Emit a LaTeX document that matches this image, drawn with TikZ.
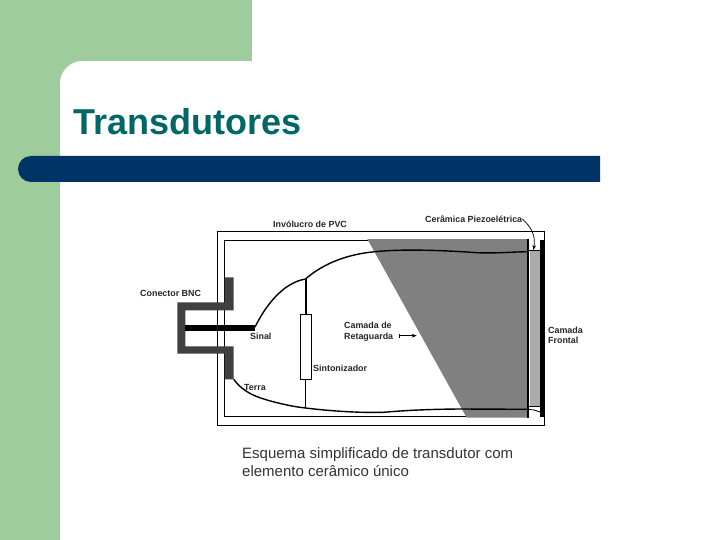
\documentclass[tikz,border=0pt]{standalone}
\usepackage{fontspec}
\setmainfont{Liberation Sans}
\usepackage{xcolor}
\usetikzlibrary{arrows.meta, positioning}
\definecolor{slidegreen}{HTML}{9ECC9C}
\definecolor{slidenavy}{HTML}{003366}
\definecolor{titleteal}{HTML}{006666}
\definecolor{bncgray}{HTML}{404040}
\definecolor{backgray}{HTML}{808080}
\definecolor{ceramicgray}{HTML}{ABABAB}

\begin{document}
\begin{tikzpicture}[
  x=1pt, y=-1pt,
  title/.style   = {anchor=base west, inner sep=0pt, font=\fontsize{36}{40}\selectfont\bfseries, text=titleteal},
  caption/.style = {anchor=north west, inner sep=0pt, align=left, font=\fontsize{15}{18}\selectfont, text=black!80},
  label/.style   = {inner sep=0pt, align=left, font=\fontsize{8.9}{10.6}\selectfont\bfseries, text=black!85},
  tuner/.style   = {rectangle, draw=black, fill=white, line width=0.8pt, inner sep=0pt,
                    minimum width=11pt, minimum height=65pt},
  wire/.style    = {line width=1.4pt, black},
  thinwire/.style= {line width=0.8pt, black},
  arrow/.style   = {-{Stealth[length=5pt]}, line width=0.7pt, black},
]
  \useasboundingbox (0,0) rectangle (720,540);

  % slide background
  \fill[white] (0,0) rectangle (720,540);
  \fill[slidegreen] (0,0) rectangle (252,61);
  \fill[slidegreen] (0,0) rectangle (60,540);
  \fill[slidegreen] (60,61) -- (60,83) .. controls (60,71) and (70,61) .. (82,61) -- cycle;
  \fill[slidenavy] (600,156) -- (31,156) .. controls (23.8,156) and (18,161.8) .. (18,169)
    .. controls (18,176.2) and (23.8,182) .. (31,182) -- (600,182) -- cycle;
  \node[title] (title) at (73,135) {Transdutores};

  % housing
  \draw[line width=0.8pt] (217.7,231.7) rectangle (544.3,425);
  \draw[line width=0.8pt] (528,240.3) -- (224.7,240.3) -- (224.7,416) -- (528,416);

  % backing layer and ceramic
  \fill[backgray] (367.3,239) -- (528.3,239) -- (528.3,417.7) -- (466.7,417.7) -- cycle;
  \fill[ceramicgray] (530,250.7) rectangle (540,406);
  \draw[line width=2pt] (528.3,239) -- (528.3,418);
  \fill[black] (540,240) rectangle (544.3,416.7);
  \draw[thinwire] (529,250.3) -- (540,250.3);
  \draw[thinwire] (529,406.3) -- (540,406.3);

  % BNC connector
  \fill[bncgray] (224.7,277.3) -- (233.7,277.3) -- (233.7,310.3) -- (185.3,310.3) -- (185.3,346.3)
    -- (233.7,346.3) -- (233.7,379.3) -- (224.7,379.3) -- (224.7,353.7) -- (177.3,353.7)
    -- (177.3,302.3) -- (224.7,302.3) -- cycle;
  \fill[black] (185.3,325) rectangle (255,330.7);

  % wires
  \node[tuner] (sint) at (305.5,346.8) {};
  \coordinate (sinalend) at (255,327);
  \coordinate (junction) at (305.5,279);
  \coordinate (frontsig) at (528,251.7);
  \coordinate (terrastart) at (233.7,379.3);
  \coordinate (terrajoin) at (305.5,408);
  \coordinate (frontgnd) at (528,409.3);
  \coordinate (frontedge) at (540,412);

  \draw[wire] (sinalend) .. controls (265,307) and (282,283) .. (junction);
  \draw[wire] (junction) .. controls (325,262) and (350,254) .. (375,251.7)
    .. controls (400,249) and (440,250) .. (476.7,252.7) .. controls (495,253.5) and (510,252) .. (frontsig);
  \draw[wire] (terrastart) .. controls (244,393) and (256,397) .. (273,401.7)
    .. controls (290,406) and (297,407) .. (terrajoin) .. controls (330,411) and (360,413) .. (383,412.3)
    .. controls (400,411) and (420,409.3) .. (460,409) -- (frontgnd);
  \draw[thinwire] (frontgnd) -- (534,410) -- (frontedge);
  \draw[line width=2pt] (junction) -- (sint.north);
  \draw[thinwire] (sint.south) -- (terrajoin);

  % labels
  \node[label, anchor=west] (bnc) at (140,293.3) {Conector BNC};
  \node[label, anchor=west] (pvc) at (273,224.3) {Invólucro de PVC};
  \node[label, anchor=west] (cer) at (425,219) {Cerâmica Piezoelétrica};
  \node[label, anchor=west] (sinal) at (250,336.7) {Sinal};
  \node[label, anchor=west] (sintlabel) at (313,368.7) {Sintonizador};
  \node[label, anchor=west] (terra) at (244,387) {Terra};
  \node[label, anchor=west] (retag) at (344,331.5) {Camada de\\Retaguarda};
  \node[label, anchor=west] (front) at (548,335.5) {Camada\\Frontal};

  \coordinate (retagtail) at (399.3,335.7);
  \coordinate (retagtip) at (416.7,335.7);
  \coordinate (certip) at (533.5,250);
  \draw[arrow, {Bar[width=4pt,length=0.8pt]}-{Stealth[length=5pt]}] (retagtail) -- (retagtip);
  \draw[arrow] (cer.east) .. controls (530,226) and (536,234) .. (certip);

  \node[caption] (legenda) at (242,447.5) {Esquema simplificado de transdutor com\\elemento cerâmico único};
\end{tikzpicture}
\end{document}
